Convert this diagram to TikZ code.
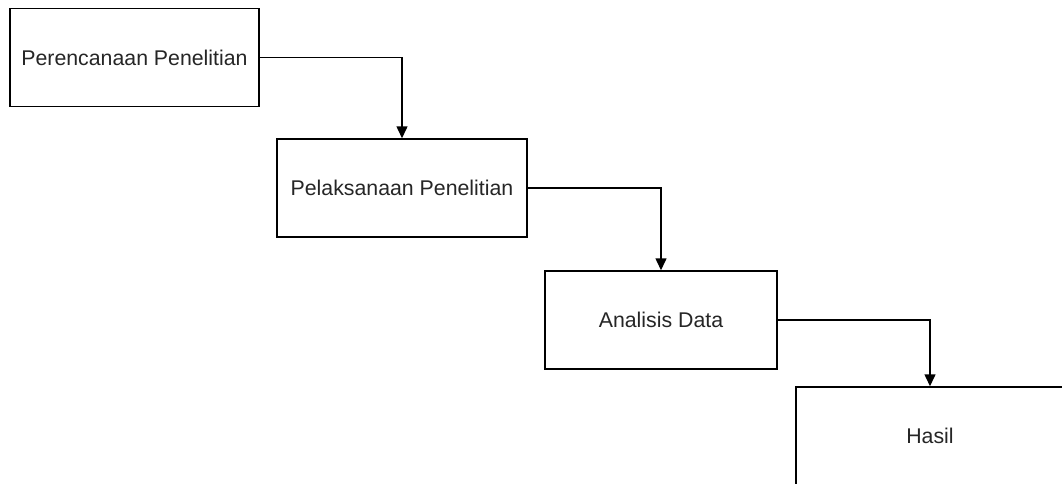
\documentclass[tikz,border=0pt]{standalone}
\usepackage{fontspec}
\setmainfont{Liberation Sans}
\usetikzlibrary{arrows.meta}
\begin{document}
\begin{tikzpicture}[x=1pt,y=-1pt,
  stepbox/.style={draw=black, line width=1.5pt, fill=white, inner sep=0pt,
    minimum height=98pt, text=black!85,
    font=\fontsize{21.3}{25}\selectfont},
  flow/.style={draw=black, line width=1.5pt,
    -{Triangle[width=11pt,length=12pt]}}]
  \useasboundingbox (0,0) rectangle (1062,483);
  \clip (0,0) rectangle (1062,483);
  \fill[white] (0,0) rectangle (1062,483);

  % process steps
  \node[stepbox, minimum width=249pt] (plan) at (134.5,57.5) {Perencanaan Penelitian};
  \node[stepbox, minimum width=250pt] (exec) at (402,188) {Pelaksanaan Penelitian};
  \node[stepbox, minimum width=232pt] (anal) at (661,320) {Analisis Data};
  \node[stepbox, minimum width=268pt] (res)  at (930,436) {Hasil};

  % elbow connectors between consecutive steps
  \draw[flow] (plan.east) -| (exec.north);
  \draw[flow] (exec.east) -| (anal.north);
  \draw[flow] (anal.east) -| (res.north);
\end{tikzpicture}
\end{document}
